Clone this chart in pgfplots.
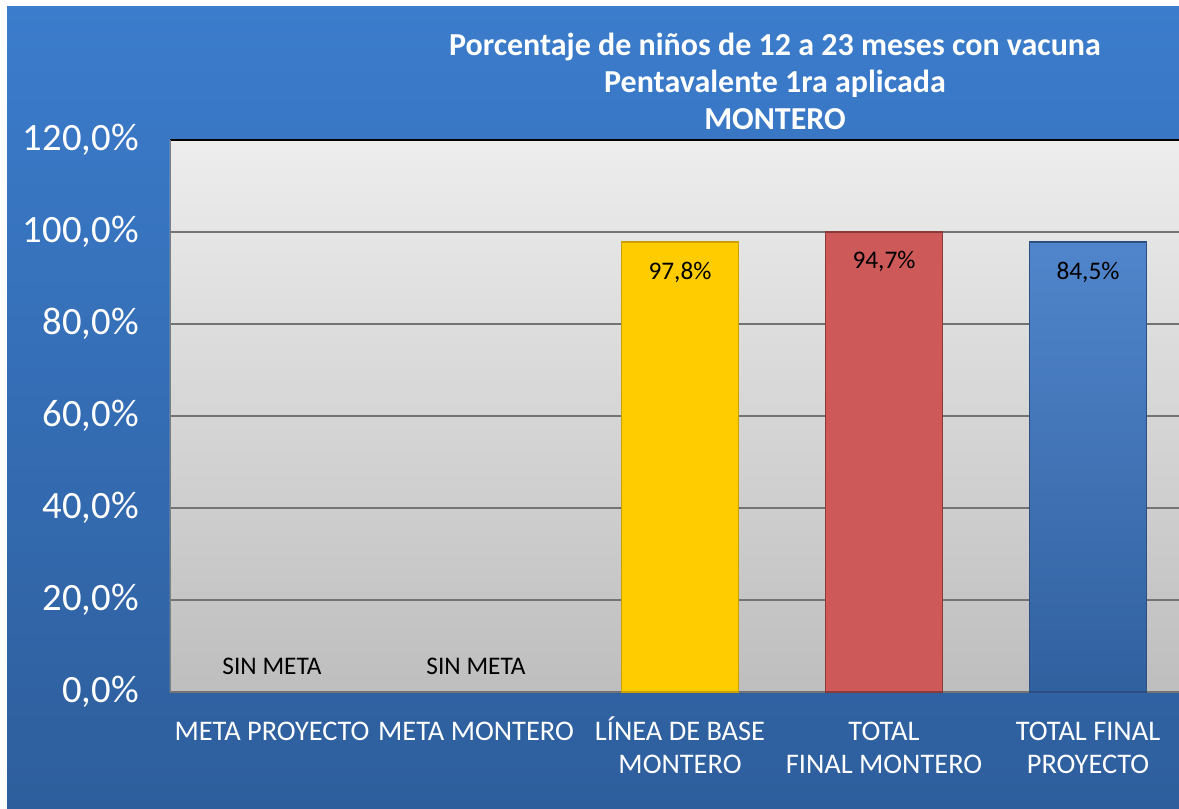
\documentclass[border=0pt]{standalone}
\usepackage{pgfplots}
\pgfplotsset{compat=1.18}
\usepackage{fontspec}
\setmainfont{Carlito}

\definecolor{bgtop}{HTML}{3B7CCC}
\definecolor{bgbot}{HTML}{2E5E9C}
\definecolor{pltop}{HTML}{EDEDED}
\definecolor{plbot}{HTML}{BEBEBE}
\definecolor{cyel}{HTML}{FFCC00}
\definecolor{cyeld}{HTML}{C9A000}
\definecolor{cred}{HTML}{CD5959}
\definecolor{credd}{HTML}{8B3A3A}
\definecolor{cblu}{HTML}{3D78C6}
\definecolor{cblud}{HTML}{2A4F80}

\begin{document}
\begin{tikzpicture}
% page and chart background (1px = 0.75pt)
\path[use as bounding box, fill=white] (0,0) rectangle (884.25pt,-606.75pt);
\shade[top color=bgtop, bottom color=bgbot] (5.25pt,-5.25pt) rectangle (884.25pt,-606.75pt);

\node[text=white, font=\fontsize{24}{28}\selectfont\bfseries] at (581.25pt,-35.5pt) {Porcentaje de niños de 12 a 23 meses con vacuna};
\node[text=white, font=\fontsize{24}{28}\selectfont\bfseries] at (581.25pt,-62.5pt) {Pentavalente 1ra aplicada};
\node[text=white, font=\fontsize{24}{28}\selectfont\bfseries] at (581.25pt,-89pt) {MONTERO};

\begin{axis}[
  at={(127.5pt,-519pt)}, anchor=south west,
  scale only axis,
  width=756.75pt, height=414pt,
  ybar, bar width=0.574, bar shift=0pt,
  xmin=-0.5, xmax=4.446,
  ymin=0, ymax=120,
  xtick={0,1,2,3,4},
  xticklabels={{\strut META PROYECTO},{\strut META MONTERO},{\strut LÍNEA DE BASE\\MONTERO},{\strut TOTAL\\FINAL MONTERO},{\strut TOTAL FINAL\\PROYECTO}},
  xticklabel style={align=center, text=white, font=\fontsize{21.3}{25}\selectfont, yshift=-15pt},
  ytick={0,20,40,60,80,100,120},
  yticklabels={{0,0\%},{20,0\%},{40,0\%},{60,0\%},{80,0\%},{100,0\%},{120,0\%}},
  yticklabel style={text=white, font=\fontsize{29}{32}\selectfont, xshift=-20pt},
  major tick length=0pt,
  axis line style={draw=none},
  ymajorgrids,
  grid style={draw=gray!90!black, line width=0.8pt},
  axis background/.style={top color=pltop, bottom color=plbot},
  point meta=explicit symbolic,
  nodes near coords,
  nodes near coords style={font=\fontsize{19}{22}\selectfont, text=black, anchor=center},
]
\addplot[fill=cyel, draw=cyeld, line width=1pt, nodes near coords style={yshift=-22.5pt}] coordinates {(2,97.8) [97,8\%]};
\addplot[fill=cred, draw=credd, line width=1pt, nodes near coords style={yshift=-22pt}] coordinates {(3,100) [94,7\%]};
\addplot[top color=cblu!90!white, bottom color=cblu!80!black, draw=cblud, line width=1pt, nodes near coords style={yshift=-22.5pt}] coordinates {(4,97.8) [84,5\%]};
\addplot[draw=none, fill=none, nodes near coords style={yshift=19.5pt}] coordinates {(0,0) [SIN META] (1,0) [SIN META]};
\draw[black, line width=1pt] (rel axis cs:0,1) -- (rel axis cs:1,1);
\draw[gray, line width=1pt] (rel axis cs:0,0) -- (rel axis cs:0,1);
\end{axis}
\end{tikzpicture}
\end{document}
